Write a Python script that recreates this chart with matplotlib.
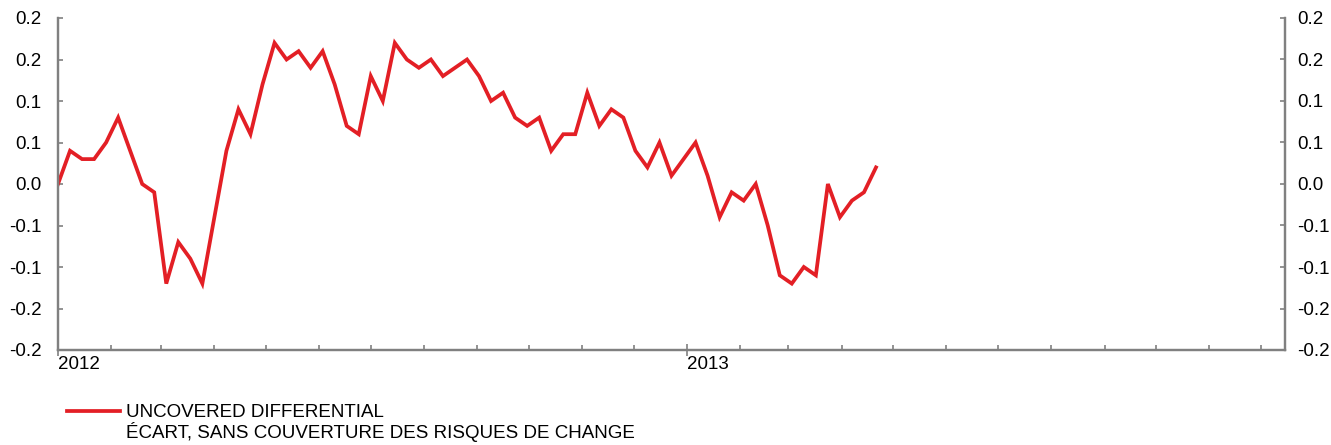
import numpy as np
import pandas as pd
import matplotlib
matplotlib.use("Agg")
import matplotlib.pyplot as plt
import matplotlib.dates as mdates
from matplotlib.lines import Line2D

plt.rcParams['font.family'] = ['Liberation Sans', 'DejaVu Sans']

# weekly observations, starting first week of 2012
dates = pd.date_range("2012-01-01", periods=69, freq="7D")
spread = [0.00, 0.04, 0.03, 0.03, 0.05, 0.08, 0.04, 0.00, -0.01, -0.12,
          -0.07, -0.09, -0.12, -0.04, 0.04, 0.09, 0.06, 0.12, 0.17, 0.15,
          0.16, 0.14, 0.16, 0.12, 0.07, 0.06, 0.13, 0.10, 0.17, 0.15,
          0.14, 0.15, 0.13, 0.14, 0.15, 0.13, 0.10, 0.11, 0.08, 0.07,
          0.08, 0.04, 0.06, 0.06, 0.11, 0.07, 0.09, 0.08, 0.04, 0.02,
          0.05, 0.01, 0.03, 0.05, 0.01, -0.04, -0.01, -0.02, 0.00, -0.05,
          -0.11, -0.12, -0.10, -0.11, 0.00, -0.04, -0.02, -0.01, 0.02]

yticks = [-0.2, -0.15, -0.1, -0.05, 0.0, 0.05, 0.1, 0.15, 0.2]
ylabels = ["-0.2", "-0.2", "-0.1", "-0.1", "0.0", "0.1", "0.1", "0.2", "0.2"]
label_en = "UNCOVERED DIFFERENTIAL"
label_fr = "ÉCART, SANS COUVERTURE DES RISQUES DE CHANGE"

red = "#e31f25"
grey = "#808080"
fs = 13.5

fig = plt.figure(figsize=(13.31, 4.45), dpi=100)
ax = fig.add_axes([58/1331, 1-350/445, (1285-58)/1331, (350-18)/445])

ax.plot(dates, spread, color=red, lw=2.7, solid_joinstyle="miter")

ax.set_xlim(pd.Timestamp("2012-01-01"), pd.Timestamp("2013-12-15"))
ax.set_ylim(-0.2, 0.2)

ax.xaxis.set_major_locator(mdates.YearLocator())
ax.xaxis.set_major_formatter(mdates.DateFormatter("%Y"))
ax.xaxis.set_minor_locator(mdates.MonthLocator())
for lab in ax.get_xticklabels():
    lab.set_horizontalalignment("left")

ax.set_yticks(yticks)
ax.set_yticklabels(ylabels)

# right hand scale (same values)
ax2 = ax.twinx()
ax2.set_ylim(ax.get_ylim())
ax2.set_yticks(yticks)
ax2.set_yticklabels(ylabels)

for a in (ax, ax2):
    for s in ["left", "bottom", "right"]:
        a.spines[s].set_color(grey)
        a.spines[s].set_linewidth(1.6)
    a.spines["top"].set_visible(False)

ax.tick_params(axis="y", direction="in", length=3.5, width=1.2,
               color=grey, labelsize=fs, pad=12, right=False)
ax2.tick_params(axis="y", direction="in", length=3.5, width=1.2,
                color=grey, labelsize=fs, pad=8.5)
ax.tick_params(axis="x", which="major", direction="inout", length=8, width=1.2,
               color=grey, labelsize=fs, pad=0.5)
ax.tick_params(axis="x", which="minor", direction="in", length=3.5, width=1.2,
               color=grey)

# legend
fig.add_artist(Line2D([67/1331, 120/1331], [1-410.5/445, 1-410.5/445],
                      color=red, lw=2.7, transform=fig.transFigure))
fig.text(126/1331, 1-416.7/445, label_en, fontsize=fs, va="baseline", ha="left")
fig.text(126/1331, 1-438.3/445, label_fr, fontsize=fs, va="baseline", ha="left")

fig.savefig("out.png", dpi=100)
